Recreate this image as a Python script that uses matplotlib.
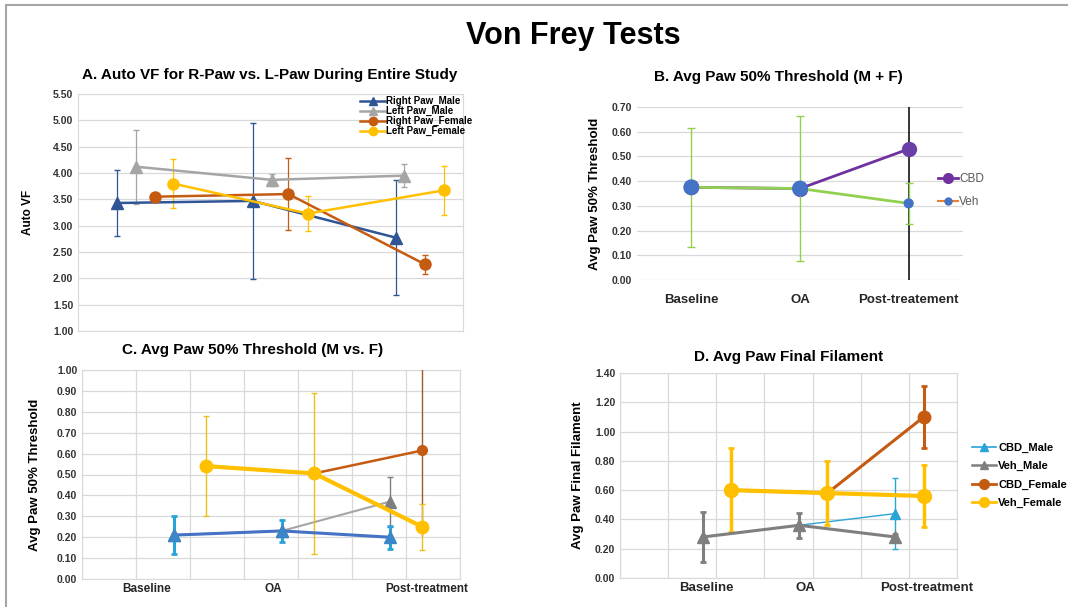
import matplotlib
matplotlib.use("Agg")
import matplotlib.pyplot as plt
from matplotlib.lines import Line2D
from matplotlib.patches import Rectangle

plt.rcParams['font.family'] = ['Liberation Sans', 'DejaVu Sans']
plt.rcParams['font.weight'] = 'bold'
plt.rcParams['axes.labelweight'] = 'bold'

W, H = 1068, 607

# ---------------- data ----------------
# A. Auto VF (x = position along the study, 3 visits)
a_labels = ["Right Paw_Male", "Left Paw_Male", "Right Paw_Female", "Left Paw_Female"]
a_x_rpm = [0.30, 1.36, 2.48]
a_x_lpm = [0.45, 1.51, 2.54]
a_x_rpf = [0.60, 1.64, 2.70]
a_x_lpf = [0.74, 1.79, 2.85]
a_rpm = [3.43, 3.47, 2.77]
a_lpm = [4.12, 3.87, 3.95]
a_rpf = [3.55, 3.60, 2.27]
a_lpf = [3.80, 3.23, 3.67]
a_rpm_err = [0.63, 1.48, 1.09]
a_lpm_err = [0.70, 0.11, 0.22]
a_rpf_err = [0.05, 0.68, 0.18]
a_lpf_err = [0.46, 0.33, 0.46]

# B. Avg paw 50% threshold (M + F)
b_cats = ["Baseline", "OA", "Post-treatement"]
b_cbd = [0.375, 0.37, 0.53]
b_veh = [0.375, 0.37, 0.31]
b_cbd_err = [0.0, 0.0, 0.62]
b_veh_err = [0.24, 0.295, 0.083]

# C. Avg paw 50% threshold (M vs. F)
cd_cats = ["Baseline", "OA", "Post-treatment"]
cd_centers = [2, 4, 6]
c_cbd_m = [0.21, 0.23, 0.20]
c_veh_m = [0.21, 0.23, 0.37]
c_cbd_f = [0.54, 0.505, 0.615]
c_veh_f = [0.54, 0.505, 0.25]
c_cbd_m_err = [0.09, 0.052, 0.055]
c_veh_m_err = [0.0, 0.0, 0.12]
c_cbd_f_err = [0.0, 0.0, 0.41]
c_veh_f_err = [0.24, 0.385, 0.11]

# D. Avg paw final filament
d_cbd_m = [0.28, 0.36, 0.44]
d_veh_m = [0.28, 0.36, 0.28]
d_cbd_f = [0.60, 0.58, 1.10]
d_veh_f = [0.60, 0.58, 0.56]
d_cbd_m_err = [0.0, 0.0, 0.245]
d_veh_m_err = [0.17, 0.087, 0.02]
d_cbd_f_err = [0.0, 0.0, 0.21]
d_veh_f_err = [0.285, 0.22, 0.21]

BLUE = '#2F5597'
GRAY = '#A5A5A5'
DGRAY = '#7F7F7F'
BROWN = '#C55A11'
GOLD = '#FFC000'
CYAN = '#2AA4D8'
PURPLE = '#7030A0'
MBLUE = '#4472C4'
GREEN = '#92D050'
GRID = '#D9D9D9'


def px_axes(fig, left, top, right, bottom):
    return fig.add_axes([left / W, 1 - bottom / H, (right - left) / W, (bottom - top) / H])


def style(ax, ylim, step, box=True):
    ax.set_ylim(*ylim)
    n = int(round((ylim[1] - ylim[0]) / step))
    ticks = [ylim[0] + i * step for i in range(n + 1)]
    ax.set_yticks(ticks)
    ax.set_yticklabels(["%.2f" % t for t in ticks], fontsize=7.5, color='#333333')
    ax.tick_params(length=0)
    ax.yaxis.grid(True, color=GRID, linewidth=0.9)
    ax.set_axisbelow(True)
    for s in ax.spines.values():
        s.set_visible(box)
        s.set_color(GRID)


fig = plt.figure(figsize=(W / 100, H / 100), dpi=100)
fig.patches.append(Rectangle((6 / W, -0.05), 1.1, 1 - 5 / H + 0.05, transform=fig.transFigure,
                             fill=False, edgecolor='#A6A6A6', linewidth=1.5))
fig.text(573 / W, 1 - 36 / H, "Von Frey Tests", ha='center', va='center', fontsize=22)

# ---------------- A ----------------
ax = px_axes(fig, 78, 94, 463, 331)
style(ax, (1.0, 5.5), 0.5)
ax.set_xlim(0, 3)
ax.set_xticks([])
ax.errorbar(a_x_rpm, a_rpm, yerr=a_rpm_err, color=BLUE, lw=1.8, marker='^', ms=9,
            ecolor=BLUE, elinewidth=0.9, capsize=2.5, label=a_labels[0], zorder=3)
ax.errorbar(a_x_lpm, a_lpm, yerr=a_lpm_err, color=GRAY, lw=1.8, marker='^', ms=9,
            ecolor=GRAY, elinewidth=0.9, capsize=2.5, label=a_labels[1], zorder=3)
ax.errorbar(a_x_rpf, a_rpf, yerr=a_rpf_err, color=BROWN, lw=1.8, marker='o', ms=8,
            ecolor=BROWN, elinewidth=0.9, capsize=2.5, label=a_labels[2], zorder=3)
ax.errorbar(a_x_lpf, a_lpf, yerr=a_lpf_err, color=GOLD, lw=1.8, marker='o', ms=8,
            ecolor=GOLD, elinewidth=0.9, capsize=2.5, label=a_labels[3], zorder=3)
hA = [Line2D([], [], color=c, lw=1.8, marker=m, ms=6) for c, m in
      [(BLUE, '^'), (GRAY, '^'), (BROWN, 'o'), (GOLD, 'o')]]
ax.legend(hA, a_labels, loc='upper left', bbox_to_anchor=((360 - 78) / 385, 1.0 - 2 / 237),
          frameon=False, fontsize=7, labelspacing=0.0, handlelength=2.6, handletextpad=0.1,
          borderaxespad=0, borderpad=0)
ax.set_ylabel("Auto VF", fontsize=8.5)
ax.yaxis.set_label_coords(-0.114, 0.5)
fig.text(270 / W, 1 - 75 / H, "A. Auto VF for R-Paw vs. L-Paw During Entire Study",
         ha='center', va='center', fontsize=11)

# ---------------- B ----------------
ax = px_axes(fig, 637, 107, 963, 280)
style(ax, (0.0, 0.7), 0.1, box=False)
xb = range(len(b_cats))
ax.set_xlim(-0.5, 2.5)
ax.set_xticks(list(xb))
ax.set_xticklabels(b_cats, fontsize=9.5, color='#262626')
ax.tick_params(axis='x', pad=10)
ax.errorbar(xb, b_cbd, yerr=b_cbd_err, color=PURPLE, lw=2, marker='o', ms=10,
            mfc='#6B3FA8', mec='#6B3FA8', ecolor='black', elinewidth=1.1, capsize=0, zorder=3)
ax.errorbar(xb, b_veh, yerr=b_veh_err, color=GREEN, lw=2, marker=None,
            ecolor=GREEN, elinewidth=1.0, capsize=3, zorder=4)
ax.scatter(xb, b_veh, s=[110, 110, 40], color=MBLUE, zorder=5)
hB = [Line2D([], [], color=PURPLE, lw=2, marker='o', ms=7),
      Line2D([], [], color='#ED7D31', lw=1.5, marker='o', ms=5, mfc=MBLUE, mec=MBLUE)]
ax.legend(hB, ["CBD", "Veh"], loc='upper left', bbox_to_anchor=((938 - 637) / 326, 0.62),
          frameon=False, labelspacing=0.95, handlelength=1.7, handletextpad=0.1,
          borderaxespad=0, borderpad=0, prop={'weight': 'normal', 'size': 8.5})
for t in ax.get_legend().get_texts():
    t.set_color('#595959')
ax.set_ylabel("Avg Paw 50% Threshold", fontsize=9.5)
ax.yaxis.set_label_coords(-0.11, 0.5)
fig.text(778 / W, 1 - 77 / H, "B. Avg Paw 50% Threshold (M + F)",
         ha='center', va='center', fontsize=11)


def grid_axes(ax, label_pos, fs):
    ax.set_xlim(0, 7)
    ax.set_xticks(range(8))
    ax.set_xticklabels([])
    ax.xaxis.grid(True, color=GRID, linewidth=0.9)
    ax.set_xticks(label_pos, minor=True)
    ax.set_xticklabels(cd_cats, minor=True, fontsize=fs, color='#262626')
    ax.tick_params(axis='x', which='both', length=0, pad=3)


# ---------------- C ----------------
ax = px_axes(fig, 82, 370, 460, 579)
style(ax, (0.0, 1.0), 0.1)
grid_axes(ax, [1.2, 3.54, 6.39], 8.5)
xm = [c - 0.3 for c in cd_centers]
xf = [c + 0.3 for c in cd_centers]
ax.errorbar(xm, c_veh_m, yerr=c_veh_m_err, color=GRAY, lw=1.5, marker='^', ms=8,
            mfc=DGRAY, mec=DGRAY, ecolor=DGRAY, elinewidth=1.0, capsize=2.5, zorder=3)
ax.errorbar(xm, c_cbd_m, yerr=c_cbd_m_err, color=MBLUE, lw=2.2, marker='^', ms=8,
            mfc='#3A86C8', mec='#3A86C8', ecolor=CYAN, elinewidth=2.2, capsize=2.5,
            capthick=2, zorder=4)
ax.errorbar(xf, c_cbd_f, yerr=c_cbd_f_err, color=BROWN, lw=1.8, marker='o', ms=7,
            ecolor='#9E5A2E', elinewidth=1.0, capsize=0, zorder=3)
ax.errorbar(xf, c_veh_f, yerr=c_veh_f_err, color=GOLD, lw=3, marker='o', ms=9,
            ecolor='#E8C020', elinewidth=1.0, capsize=2.5, zorder=4)
ax.set_ylabel("Avg Paw 50% Threshold", fontsize=9.5)
ax.yaxis.set_label_coords(-0.109, 0.5)
fig.text(253 / W, 1 - 350 / H, "C. Avg Paw 50% Threshold (M vs. F)",
         ha='center', va='center', fontsize=11)

# ---------------- D ----------------
ax = px_axes(fig, 620, 373, 957, 578)
style(ax, (0.0, 1.4), 0.2)
grid_axes(ax, [1.80, 3.85, 6.38], 9.5)
xm = [c - 0.28 for c in cd_centers]
xf = [c + 0.31 for c in cd_centers]
ax.errorbar(xm, d_cbd_m, yerr=d_cbd_m_err, color=CYAN, lw=1.0, marker='^', ms=7,
            ecolor=CYAN, elinewidth=1.0, capsize=2.5, zorder=3)
ax.errorbar(xm, d_veh_m, yerr=d_veh_m_err, color=DGRAY, lw=2.2, marker='^', ms=9,
            ecolor=DGRAY, elinewidth=2.2, capsize=2.5, capthick=2, zorder=4)
ax.errorbar(xf, d_cbd_f, yerr=d_cbd_f_err, color=BROWN, lw=2.2, marker='o', ms=9,
            ecolor=BROWN, elinewidth=2.2, capsize=2.5, capthick=2, zorder=3)
ax.errorbar(xf, d_veh_f, yerr=d_veh_f_err, color=GOLD, lw=3, marker='o', ms=10,
            ecolor=GOLD, elinewidth=2.5, capsize=2.5, capthick=2, zorder=4)
d_labels = ["CBD_Male", "Veh_Male", "CBD_Female", "Veh_Female"]
hD = [Line2D([], [], color=CYAN, lw=1.2, marker='^', ms=6),
      Line2D([], [], color=DGRAY, lw=1.8, marker='^', ms=6),
      Line2D([], [], color=BROWN, lw=2, marker='o', ms=7),
      Line2D([], [], color=GOLD, lw=2, marker='o', ms=7)]
ax.legend(hD, d_labels, loc='upper left', bbox_to_anchor=((972 - 620) / 337, 0.66),
          frameon=False, fontsize=8, labelspacing=0.75, handlelength=2.2, handletextpad=0.15,
          borderaxespad=0, borderpad=0)
ax.set_ylabel("Avg Paw Final Filament", fontsize=9.5)
ax.yaxis.set_label_coords(-0.107, 0.5)
fig.text(789 / W, 1 - 357 / H, "D. Avg Paw Final Filament",
         ha='center', va='center', fontsize=11)

fig.savefig("out.png", dpi=100)
